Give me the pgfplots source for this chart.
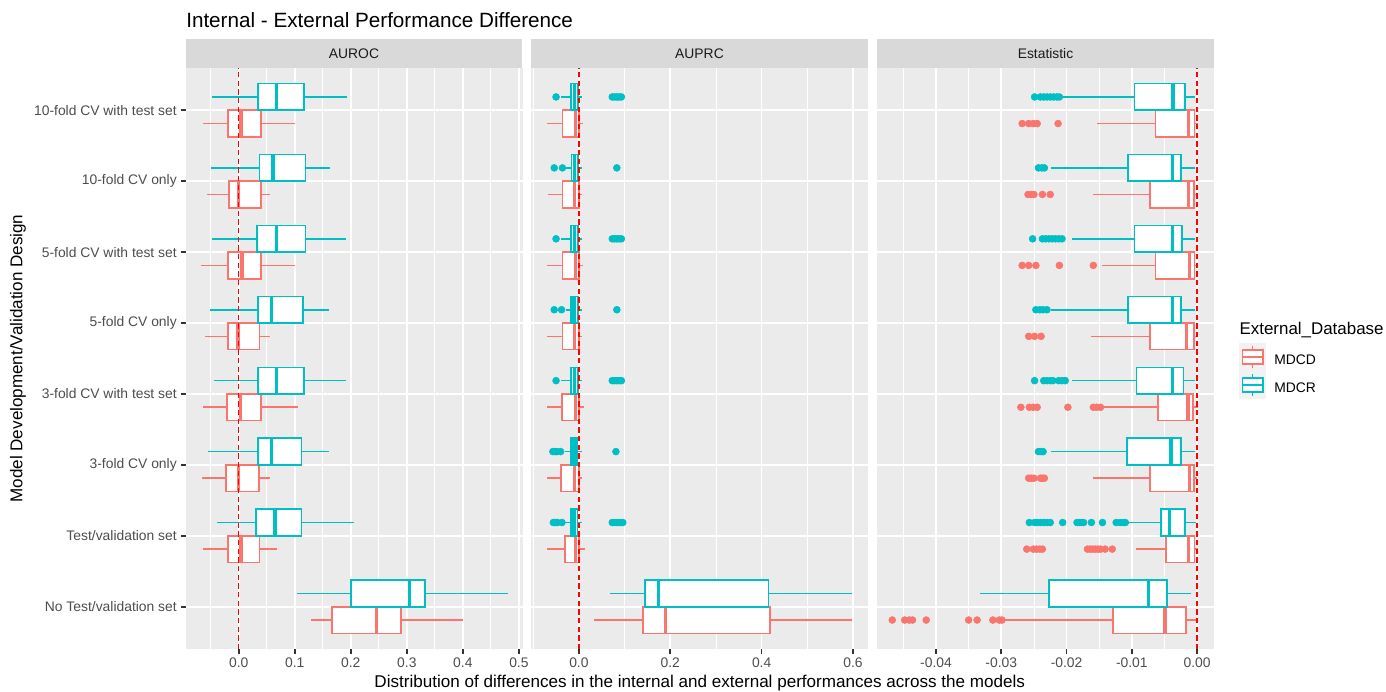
\documentclass[border=0pt]{standalone}
\usepackage{fontspec}
\setmainfont{Liberation Sans}
\usepackage{pgfplots}
\pgfplotsset{compat=1.18}
\usepgfplotslibrary{statistics}
\definecolor{ggRed}{HTML}{F8766D}
\definecolor{ggCyan}{HTML}{00BFC4}
\definecolor{ggBg}{HTML}{EBEBEB}
\definecolor{ggStrip}{HTML}{D9D9D9}
\definecolor{ggTickTxt}{HTML}{4D4D4D}
\definecolor{ggTick}{HTML}{333333}
\definecolor{ggStripTxt}{HTML}{1A1A1A}
\definecolor{ggKey}{HTML}{F2F2F2}
\newcommand{\fs}[1]{\fontsize{#1}{#1}\selectfont}
% box: color, position, lower whisker, Q1, median, Q3, upper whisker
\newcommand{\bx}[7]{\addplot[draw=#1, fill=white, line width=1.25pt,
  boxplot prepared={draw position=#2, lower whisker=#3, lower quartile=#4,
  median=#5, upper quartile=#6, upper whisker=#7, box extend=0.375,
  whisker extend=0, every median/.style={line width=2.5pt}}] coordinates {};}
\pgfplotsset{gg/.style={
  scale only axis, width=252.6pt, height=436.2pt, anchor=south west,
  ymin=0.4, ymax=8.6, ytick={1,2,3,4,5,6,7,8},
  axis background/.style={fill=ggBg},
  axis line style={draw=none},
  boxplot/draw direction=x,
  xmajorgrids, xminorgrids, ymajorgrids,
  major grid style={white, line width=1.25pt},
  minor grid style={white, line width=0.62pt},
  tick align=outside, major tick length=3.2pt, minor tick length=0pt,
  xtick pos=lower, ytick pos=left,
  xtick style={draw=ggTick, line width=1.25pt},
  minor x tick style={draw=none},
  scaled x ticks=false,
  /pgf/number format/assume math mode=true,
  xticklabel style={font=\fs{10.4}, text=ggTickTxt},
  yticklabel style={font=\fs{10.4}, text=ggTickTxt},
  clip=true,
}}
\begin{document}
\begin{tikzpicture}
\useasboundingbox (0pt,0pt) rectangle (1039.5pt,519pt);
% ---------------- Panel 1: AUROC ----------------
\begin{axis}[gg, at={(139.275pt,32.025pt)},
  xmin=-0.0946, xmax=0.5064,
  xtick={0,0.1,0.2,0.3,0.4,0.5},
  minor xtick={-0.05,0.05,0.15,0.25,0.35,0.45},
  xticklabel={\pgfmathprintnumber[fixed,fixed zerofill,precision=1]{\tick}},
  ytick style={draw=ggTick, line width=1.25pt},
  yticklabels={No Test/validation set,Test/validation set,3-fold CV only,3-fold CV with test set,5-fold CV only,5-fold CV with test set,10-fold CV only,10-fold CV with test set},
]
\bx{ggRed}{7.8125}{-0.063}{-0.019}{0.004}{0.040}{0.100}
\bx{ggCyan}{8.1875}{-0.047}{0.035}{0.068}{0.117}{0.194}
\bx{ggRed}{6.8125}{-0.057}{-0.017}{0.000}{0.040}{0.056}
\bx{ggCyan}{7.1875}{-0.049}{0.037}{0.061}{0.119}{0.163}
\bx{ggRed}{5.8125}{-0.067}{-0.019}{0.006}{0.040}{0.100}
\bx{ggCyan}{6.1875}{-0.047}{0.033}{0.068}{0.119}{0.192}
\bx{ggRed}{4.8125}{-0.061}{-0.019}{-0.001}{0.037}{0.055}
\bx{ggCyan}{5.1875}{-0.051}{0.035}{0.059}{0.115}{0.161}
\bx{ggRed}{3.8125}{-0.063}{-0.021}{0.003}{0.040}{0.105}
\bx{ggCyan}{4.1875}{-0.044}{0.035}{0.068}{0.117}{0.192}
\bx{ggRed}{2.8125}{-0.066}{-0.023}{0.000}{0.036}{0.055}
\bx{ggCyan}{3.1875}{-0.054}{0.035}{0.059}{0.112}{0.161}
\bx{ggRed}{1.8125}{-0.063}{-0.019}{0.004}{0.037}{0.069}
\bx{ggCyan}{2.1875}{-0.038}{0.031}{0.065}{0.112}{0.206}
\bx{ggRed}{0.8125}{0.129}{0.167}{0.246}{0.289}{0.400}
\bx{ggCyan}{1.1875}{0.104}{0.200}{0.305}{0.333}{0.480}
\addplot[red, line width=1.1pt, dash pattern=on 4pt off 2.5pt] coordinates {(0,0.4) (0,8.6)};
\end{axis}
% ---------------- Panel 2: AUPRC ----------------
\begin{axis}[gg, at={(398.025pt,32.025pt)},
  xmin=-0.1055, xmax=0.6317,
  xtick={0,0.2,0.4,0.6},
  minor xtick={-0.1,0.1,0.3,0.5},
  xticklabel={\pgfmathprintnumber[fixed,fixed zerofill,precision=1]{\tick}},
  ytick style={draw=none}, yticklabels={},
]
\bx{ggRed}{7.8125}{-0.070}{-0.036}{-0.0073}{0.0}{0.0095}
\bx{ggCyan}{8.1875}{-0.039}{-0.018}{-0.0095}{-0.0015}{0.006}
\bx{ggRed}{6.8125}{-0.068}{-0.036}{-0.009}{0.0007}{0.006}
\bx{ggCyan}{7.1875}{-0.028}{-0.016}{-0.009}{-0.0015}{0.006}
\bx{ggRed}{5.8125}{-0.070}{-0.036}{-0.0073}{0.0}{0.0095}
\bx{ggCyan}{6.1875}{-0.039}{-0.018}{-0.0095}{-0.002}{0.006}
\bx{ggRed}{4.8125}{-0.070}{-0.036}{-0.010}{0.0007}{0.006}
\bx{ggCyan}{5.1875}{-0.028}{-0.018}{-0.011}{-0.002}{0.006}
\bx{ggRed}{3.8125}{-0.070}{-0.037}{-0.0073}{0.0}{0.0116}
\bx{ggCyan}{4.1875}{-0.039}{-0.018}{-0.010}{-0.002}{0.006}
\bx{ggRed}{2.8125}{-0.070}{-0.039}{-0.010}{0.0007}{0.006}
\bx{ggCyan}{3.1875}{-0.030}{-0.018}{-0.011}{-0.004}{0.006}
\bx{ggRed}{1.8125}{-0.070}{-0.031}{-0.0073}{0.0}{0.0138}
\bx{ggCyan}{2.1875}{-0.030}{-0.018}{-0.011}{-0.003}{0.006}
\bx{ggRed}{0.8125}{0.034}{0.140}{0.190}{0.418}{0.597}
\bx{ggCyan}{1.1875}{0.068}{0.145}{0.174}{0.415}{0.597}
\addplot[only marks, mark=*, mark size=2.6pt, color=ggCyan, draw=none] coordinates {
(-0.050,8.1875) (0.073,8.1875) (0.078,8.1875) (0.083,8.1875) (0.088,8.1875) (0.093,8.1875)
(-0.054,7.1875) (-0.036,7.1875) (0.083,7.1875)
(-0.050,6.1875) (0.073,6.1875) (0.078,6.1875) (0.083,6.1875) (0.088,6.1875) (0.093,6.1875)
(-0.054,5.1875) (-0.038,5.1875) (0.083,5.1875)
(-0.050,4.1875) (0.073,4.1875) (0.078,4.1875) (0.083,4.1875) (0.088,4.1875) (0.093,4.1875)
(-0.057,3.1875) (-0.052,3.1875) (-0.048,3.1875) (-0.040,3.1875) (0.081,3.1875)
(-0.056,2.1875) (-0.053,2.1875) (-0.050,2.1875) (-0.047,2.1875) (-0.037,2.1875)
(0.073,2.1875) (0.078,2.1875) (0.083,2.1875) (0.088,2.1875) (0.093,2.1875) (0.096,2.1875)
};
\addplot[red, line width=1.1pt, dash pattern=on 4pt off 2.5pt] coordinates {(0,0.4) (0,8.6)};
\end{axis}
% ---------------- Panel 3: Estatistic ----------------
\begin{axis}[gg, at={(657.975pt,32.025pt)},
  xmin=-0.04899, xmax=0.0026,
  xtick={-0.04,-0.03,-0.02,-0.01,0},
  minor xtick={-0.045,-0.035,-0.025,-0.015,-0.005},
  xticklabel={\pgfmathprintnumber[fixed,fixed zerofill,precision=2]{\tick}},
  ytick style={draw=none}, yticklabels={},
]
\bx{ggRed}{7.8125}{-0.0154}{-0.0064}{-0.0013}{-0.0004}{0.0001}
\bx{ggCyan}{8.1875}{-0.0205}{-0.0096}{-0.0037}{-0.0019}{-0.0003}
\bx{ggRed}{6.8125}{-0.0160}{-0.0072}{-0.0013}{-0.0005}{0.0}
\bx{ggCyan}{7.1875}{-0.0224}{-0.0106}{-0.0038}{-0.0025}{-0.0003}
\bx{ggRed}{5.8125}{-0.0145}{-0.0064}{-0.0012}{-0.0004}{0.0001}
\bx{ggCyan}{6.1875}{-0.0191}{-0.0096}{-0.0038}{-0.0023}{-0.0003}
\bx{ggRed}{4.8125}{-0.0163}{-0.0072}{-0.0016}{-0.0005}{-0.0001}
\bx{ggCyan}{5.1875}{-0.0224}{-0.0106}{-0.0038}{-0.0025}{-0.0003}
\bx{ggRed}{3.8125}{-0.0145}{-0.0060}{-0.0014}{-0.0006}{0.0002}
\bx{ggCyan}{4.1875}{-0.0192}{-0.0093}{-0.0038}{-0.0021}{-0.0003}
\bx{ggRed}{2.8125}{-0.0160}{-0.0072}{-0.0012}{-0.0005}{0.0}
\bx{ggCyan}{3.1875}{-0.0224}{-0.0107}{-0.0040}{-0.0025}{-0.0003}
\bx{ggRed}{1.8125}{-0.0094}{-0.0048}{-0.0013}{-0.0004}{0.0001}
\bx{ggCyan}{2.1875}{-0.0108}{-0.0055}{-0.0042}{-0.0019}{-0.0002}
\bx{ggRed}{0.8125}{-0.0296}{-0.0129}{-0.0049}{-0.0017}{0.0}
\bx{ggCyan}{1.1875}{-0.0332}{-0.0227}{-0.0074}{-0.0046}{-0.0009}
\addplot[only marks, mark=*, mark size=2.6pt, color=ggRed, draw=none] coordinates {
(-0.0268,7.8125) (-0.0258,7.8125) (-0.0251,7.8125) (-0.0245,7.8125) (-0.0213,7.8125)
(-0.0259,6.8125) (-0.0254,6.8125) (-0.0250,6.8125) (-0.0237,6.8125) (-0.0225,6.8125)
(-0.0268,5.8125) (-0.0258,5.8125) (-0.0247,5.8125) (-0.0211,5.8125) (-0.0159,5.8125)
(-0.0258,4.8125) (-0.0249,4.8125) (-0.0239,4.8125)
(-0.0270,3.8125) (-0.0257,3.8125) (-0.0251,3.8125) (-0.0245,3.8125) (-0.0198,3.8125) (-0.0159,3.8125) (-0.0154,3.8125) (-0.0148,3.8125)
(-0.0258,2.8125) (-0.0254,2.8125) (-0.0250,2.8125) (-0.0240,2.8125) (-0.0237,2.8125) (-0.0234,2.8125)
(-0.0261,1.8125) (-0.0251,1.8125) (-0.0246,1.8125) (-0.0241,1.8125) (-0.0237,1.8125) (-0.0168,1.8125) (-0.0164,1.8125) (-0.0160,1.8125) (-0.0156,1.8125) (-0.0152,1.8125) (-0.0148,1.8125) (-0.0141,1.8125) (-0.0130,1.8125)
(-0.0467,0.8125) (-0.0448,0.8125) (-0.0441,0.8125) (-0.0436,0.8125) (-0.0415,0.8125) (-0.0350,0.8125) (-0.0337,0.8125) (-0.0313,0.8125) (-0.0303,0.8125) (-0.0299,0.8125)
};
\addplot[only marks, mark=*, mark size=2.6pt, color=ggCyan, draw=none] coordinates {
(-0.0249,8.1875) (-0.0240,8.1875) (-0.0235,8.1875) (-0.0230,8.1875) (-0.0225,8.1875) (-0.0220,8.1875) (-0.0215,8.1875) (-0.0211,8.1875)
(-0.0243,7.1875) (-0.0238,7.1875) (-0.0234,7.1875)
(-0.0252,6.1875) (-0.0237,6.1875) (-0.0232,6.1875) (-0.0227,6.1875) (-0.0222,6.1875) (-0.0217,6.1875) (-0.0212,6.1875) (-0.0207,6.1875)
(-0.0247,5.1875) (-0.0241,5.1875) (-0.0236,5.1875) (-0.0230,5.1875)
(-0.0249,4.1875) (-0.0235,4.1875) (-0.0230,4.1875) (-0.0225,4.1875) (-0.0221,4.1875) (-0.0212,4.1875) (-0.0207,4.1875) (-0.0202,4.1875)
(-0.0243,3.1875) (-0.0239,3.1875) (-0.0236,3.1875)
(-0.0257,2.1875) (-0.0249,2.1875) (-0.0245,2.1875) (-0.0240,2.1875) (-0.0235,2.1875) (-0.0230,2.1875) (-0.0225,2.1875) (-0.0206,2.1875) (-0.0184,2.1875) (-0.0180,2.1875) (-0.0177,2.1875) (-0.0174,2.1875) (-0.0162,2.1875) (-0.0145,2.1875) (-0.0124,2.1875) (-0.0118,2.1875) (-0.0113,2.1875) (-0.0110,2.1875)
};
\addplot[red, line width=1.1pt, dash pattern=on 4pt off 2.5pt] coordinates {(0,0.4) (0,8.6)};
\end{axis}
\begin{scope}[x=0.75pt,y=0.75pt]
% ---------------- strips ----------------
\fill[ggStrip] (185.7,624.3) rectangle (522.3,652.7);
\fill[ggStrip] (530.7,624.3) rectangle (868.3,652.7);
\fill[ggStrip] (877.3,624.3) rectangle (1213.7,652.7);
\node[text=ggStripTxt, font=\fs{10.4}] at (354.0,638.5) {AUROC};
\node[text=ggStripTxt, font=\fs{10.4}] at (699.5,638.5) {AUPRC};
\node[text=ggStripTxt, font=\fs{10.4}] at (1045.5,638.5) {Estatistic};
% ---------------- titles ----------------
\node[anchor=base west, font=\fs{15.5}, inner sep=0pt] at (186,664) {Internal - External Performance Difference};
\node[font=\fs{12.8}, inner sep=0pt] at (699.7,9) {Distribution of differences in the internal and external performances across the models};
\node[font=\fs{12.8}, inner sep=0pt, rotate=90] at (18,333.5) {Model Development/Validation Design};
% ---------------- legend ----------------
\node[anchor=base west, font=\fs{12.7}, inner sep=0pt] at (1239.3,357) {External\_Database};
\fill[ggKey] (1239.3,293) rectangle (1266,348.7);
\begin{scope}[line width=1.25pt]
\draw[ggRed] (1252.65,323.6) -- (1252.65,327.8);
\draw[ggRed] (1252.65,341.8) -- (1252.65,345.9);
\draw[ggRed, fill=white] (1242.6,327.8) rectangle (1262.7,341.8);
\draw[ggRed] (1242.6,334.8) -- (1262.7,334.8);
\draw[ggCyan] (1252.65,295.8) -- (1252.65,300);
\draw[ggCyan] (1252.65,314) -- (1252.65,318.1);
\draw[ggCyan, fill=white] (1242.6,300) rectangle (1262.7,314);
\draw[ggCyan] (1242.6,307) -- (1262.7,307);
\end{scope}
\node[anchor=west, font=\fs{10.4}, inner sep=0pt] at (1274,332) {MDCD};
\node[anchor=west, font=\fs{10.4}, inner sep=0pt] at (1274,304.7) {MDCR};
\end{scope}
\end{tikzpicture}
\end{document}
